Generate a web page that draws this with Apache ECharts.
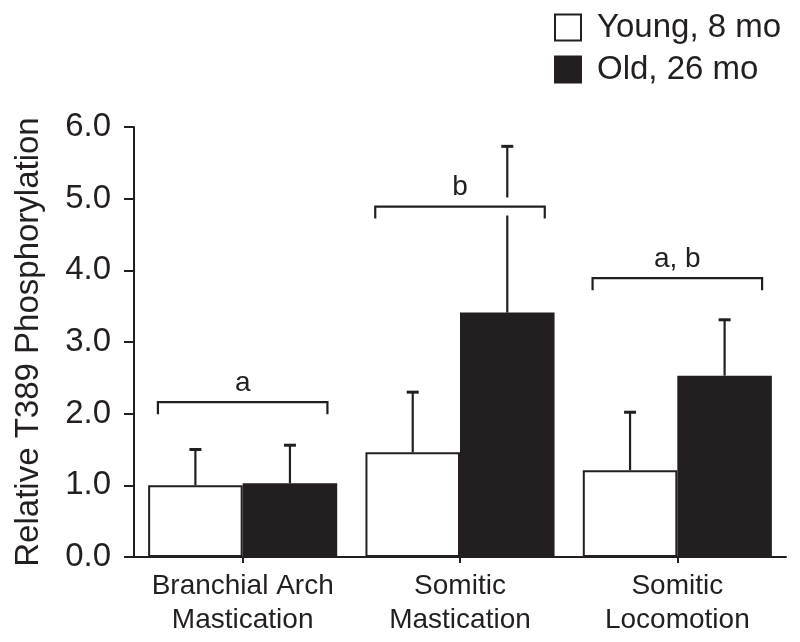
<!DOCTYPE html>
<html>
<head>
<meta charset="utf-8">
<script src="https://cdn.jsdelivr.net/npm/echarts@6/dist/echarts.min.js"></script>
<style>html,body{margin:0;padding:0;background:#fff;}#chart{width:800px;height:642px;}</style>
</head>
<body>
<div id="chart"></div>
<script>
// ---- data ----
var categories = ['Branchial Arch\nMastication', 'Somitic\nMastication', 'Somitic\nLocomotion'];
var seriesNames = ['Young, 8 mo', 'Old, 26 mo'];
var youngMean = [1.00, 1.46, 1.21];
var youngErr  = [0.50, 0.84, 0.81];
var oldMean   = [1.03, 3.41, 2.53];
var oldErr    = [0.53, 2.32, 0.78];
var bracketLevel = [2.16, 4.89, 3.89];
var bracketText  = ['a', 'b', 'a, b'];
var yTicks = [0, 1, 2, 3, 4, 5, 6];

var FONT = '"Liberation Sans", Arial, Helvetica, sans-serif';
var INK = '#231f20';
var CAT_GAP = 0.13;

function errData(means, errs) {
  return means.map(function (m, i) { return [i, m, m + errs[i]]; });
}

function makeErrRender(side) {
  return function (params, api) {
    var cat = api.value(0);
    var p0 = api.coord([cat, api.value(1)]);
    var p1 = api.coord([cat, api.value(2)]);
    var band = api.size([1, 0])[0];
    var bw = band * (1 - CAT_GAP) / 2;
    var x = p0[0] + side * bw / 2;
    return {
      type: 'group',
      children: [
        { type: 'line', shape: { x1: x, y1: p0[1], x2: x, y2: p1[1] }, style: { stroke: INK, lineWidth: 2.2 } },
        { type: 'line', shape: { x1: x - 6, y1: p1[1], x2: x + 6, y2: p1[1] }, style: { stroke: INK, lineWidth: 3 } }
      ]
    };
  };
}

var bracketData = bracketLevel.map(function (v, i) { return [i, v, bracketText[i]]; });

var chart = echarts.init(document.getElementById('chart'), null, { renderer: 'canvas' });
chart.setOption({
  animation: false,
  backgroundColor: '#fff',
  textStyle: { fontFamily: FONT, color: INK },
  legend: {
    orient: 'vertical',
    left: 549,
    top: 6,
    itemWidth: 26,
    itemHeight: 26,
    itemGap: 9,
    icon: 'rect',
    data: seriesNames,
    textStyle: { fontFamily: FONT, fontSize: 33, lineHeight: 30, color: INK, padding: [0, 0, 0, 11] },
    selectedMode: false
  },
  grid: { left: 134, right: 14, top: 127, bottom: 85, containLabel: false, outerBoundsMode: 'none' },
  xAxis: {
    type: 'category',
    data: categories,
    axisLine: { lineStyle: { color: INK, width: 2 } },
    axisTick: { show: true, alignWithLabel: true, length: 6, lineStyle: { color: INK, width: 2 } },
    axisLabel: { interval: 0, fontFamily: FONT, fontSize: 28, color: INK, lineHeight: 34, margin: 12 }
  },
  yAxis: {
    type: 'value',
    min: yTicks[0],
    max: yTicks[yTicks.length - 1],
    interval: 1,
    name: 'Relative T389 Phosphorylation',
    nameLocation: 'middle',
    nameGap: 89,
    nameTextStyle: { fontFamily: FONT, fontSize: 33, color: INK },
    axisLine: { show: true, lineStyle: { color: INK, width: 2 } },
    axisTick: { show: true, length: 10, lineStyle: { color: INK, width: 2 } },
    splitLine: { show: false },
    axisLabel: { fontFamily: FONT, fontSize: 33, color: INK, margin: 23, formatter: function (v) { return v.toFixed(1); } }
  },
  series: [
    {
      name: seriesNames[0], type: 'bar', data: youngMean,
      barGap: '0%', barCategoryGap: (CAT_GAP * 100) + '%',
      itemStyle: { color: '#ffffff', borderColor: INK, borderWidth: 2 }
    },
    {
      name: seriesNames[1], type: 'bar', data: oldMean,
      barGap: '0%', barCategoryGap: (CAT_GAP * 100) + '%',
      itemStyle: { color: INK, borderColor: INK, borderWidth: 2 }
    },
    {
      type: 'custom', data: errData(youngMean, youngErr), renderItem: makeErrRender(-1), z: 5,
      encode: { x: 0, y: [1, 2] }
    },
    {
      type: 'custom', data: errData(oldMean, oldErr), renderItem: makeErrRender(1), z: 5,
      encode: { x: 0, y: [1, 2] }
    },
    {
      type: 'custom', data: bracketData, z: 10,
      encode: { x: 0, y: 1 },
      renderItem: function (params, api) {
        var cat = api.value(0);
        var p = api.coord([cat, api.value(1)]);
        var band = api.size([1, 0])[0];
        var half = band * 0.39;
        var label = bracketText[params.dataIndex];
        return {
          type: 'group',
          children: [
            { type: 'line', shape: { x1: p[0] - half + 10, y1: p[1], x2: p[0] + half - 10, y2: p[1] }, style: { stroke: '#fff', lineWidth: 18 } },
            { type: 'polyline', shape: { points: [[p[0] - half, p[1] + 12], [p[0] - half, p[1]], [p[0] + half, p[1]], [p[0] + half, p[1] + 12]] }, style: { stroke: INK, lineWidth: 2.2, fill: null } },
            { type: 'text', style: { text: label, x: p[0], y: p[1] - 19, align: 'center', verticalAlign: 'middle', font: '28px ' + FONT, fill: INK } }
          ]
        };
      }
    }
  ]
});
</script>
</body>
</html>
